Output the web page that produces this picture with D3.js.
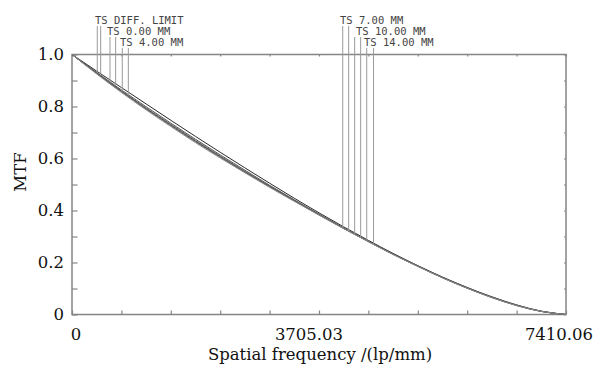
<!DOCTYPE html>
<html>
<head>
<meta charset="utf-8">
<script src="https://cdn.jsdelivr.net/npm/d3@7"></script>
<style>
  html, body { margin: 0; padding: 0; background: #ffffff; }
  svg { display: block; }
</style>
</head>
<body>
<svg id="chart" width="599" height="373"></svg>
<script>
// ---- data ----
const freqs = [0, 370.5, 741.0, 1111.5, 1482.0, 1852.5, 2223.0, 2593.5, 2964.0, 3334.5, 3705.03,
               4075.5, 4446.0, 4816.5, 5187.0, 5557.5, 5928.0, 6298.5, 6669.1, 7039.6, 7410.06];
const diffLimit = [1, .936, .873, .810, .747, .685, .624, .564, .505, .447, .391, .337, .285, .235, .188, .144, .104, .068, .037, .013, 0];
const field0  = [1, .931, .864, .799, .736, .674, .614, .555, .497, .441, .386, .333, .282, .233, .187, .143, .103, .067, .036, .012, 0];
const field4  = [1, .929, .861, .795, .732, .670, .610, .552, .495, .439, .385, .332, .281, .232, .186, .142, .102, .066, .035, .012, 0];
const field7  = [1, .928, .859, .792, .729, .667, .607, .549, .493, .438, .384, .331, .281, .232, .186, .142, .102, .066, .035, .012, 0];
const field10 = [1, .927, .857, .790, .726, .664, .605, .547, .491, .437, .383, .331, .280, .231, .185, .141, .101, .065, .035, .012, 0];
const field14 = [1, .925, .854, .787, .723, .661, .602, .545, .489, .435, .382, .330, .280, .231, .185, .141, .101, .065, .034, .012, 0];

const seriesNames = ["TS DIFF. LIMIT", "TS 0.00 MM", "TS 4.00 MM", "TS 7.00 MM", "TS 10.00 MM", "TS 14.00 MM"];
const seriesValues = [diffLimit, field0, field4, field7, field10, field14];
// frequencies where each label's T and S leader lines drop to the curves
const leaderFreqs = [[379, 430], [570, 655], [754, 845], [4061, 4150], [4240, 4330], [4421, 4523]];

const xTickValues = [0, 741.006, 1482.012, 2223.018, 2964.024, 3705.03, 4446.036, 5187.042, 5928.048, 6669.054, 7410.06];
const xTickLabels = ["0", "", "", "", "", "3705.03", "", "", "", "", "7410.06"];
const yTickValues = [0, .1, .2, .3, .4, .5, .6, .7, .8, .9, 1.0];
const yTickLabels = ["0", "", "0.2", "", "0.4", "", "0.6", "", "0.8", "", "1.0"];

// ---- layout ----
const svg = d3.select("#chart");
const plotL = 72, plotR = 566, plotT = 54.5, plotB = 314.5;
const x = d3.scaleLinear().domain([0, 7410.06]).range([plotL, plotR]);
const y = d3.scaleLinear().domain([0, 1]).range([plotB, plotT]);

const frameColor = "#858585";
const serif = "'DejaVu Serif', serif";

// frame
svg.append("rect")
  .attr("x", plotL).attr("y", plotT)
  .attr("width", plotR - plotL).attr("height", plotB - plotT)
  .attr("fill", "none").attr("stroke", frameColor).attr("stroke-width", 1.5);

// axes (ticks drawn inward)
const xAxis = d3.axisBottom(x).tickValues(xTickValues).tickSize(-4).tickFormat(() => "");
svg.append("g").attr("transform", `translate(0,${plotB})`).call(xAxis)
  .call(g => g.select(".domain").remove())
  .call(g => g.selectAll("line").attr("stroke", frameColor).attr("stroke-width", 1.2));
const xAxisTop = d3.axisTop(x).tickValues(xTickValues).tickSize(-2).tickFormat(() => "");
svg.append("g").attr("transform", `translate(0,${plotT})`).call(xAxisTop)
  .call(g => g.select(".domain").remove())
  .call(g => g.selectAll("line").attr("stroke", frameColor).attr("stroke-width", 1.2));

const yAxis = d3.axisLeft(y).tickValues(yTickValues).tickSize(-5.5).tickFormat(() => "");
svg.append("g").attr("transform", `translate(${plotL},0)`).call(yAxis)
  .call(g => g.select(".domain").remove())
  .call(g => g.selectAll("line").attr("stroke", frameColor).attr("stroke-width", 1.2));
const yAxisRight = d3.axisRight(y).tickValues(yTickValues).tickSize(-2).tickFormat(() => "");
svg.append("g").attr("transform", `translate(${plotR},0)`).call(yAxisRight)
  .call(g => g.select(".domain").remove())
  .call(g => g.selectAll("line").attr("stroke", frameColor).attr("stroke-width", 1.2));

// tick labels
const xLabelShift = [4, 0, 0, 0, 0, -10, 0, 0, 0, 0, -7];
svg.append("g").selectAll("text")
  .data(xTickValues.map((v, i) => ({ v, t: xTickLabels[i], s: xLabelShift[i] })).filter(d => d.t))
  .join("text")
  .attr("x", d => x(d.v) + d.s).attr("y", 340)
  .attr("text-anchor", "middle")
  .attr("font-family", serif).attr("font-size", 16.5).attr("fill", "#111")
  .text(d => d.t);

svg.append("g").selectAll("text")
  .data(yTickValues.map((v, i) => ({ v, t: yTickLabels[i] })).filter(d => d.t))
  .join("text")
  .attr("x", 64).attr("y", d => y(d.v) + 5.5)
  .attr("text-anchor", "end")
  .attr("font-family", serif).attr("font-size", 16.5).attr("fill", "#111")
  .text(d => d.t);

// axis titles
svg.append("text")
  .attr("x", 320).attr("y", 360)
  .attr("text-anchor", "middle")
  .attr("font-family", serif).attr("font-size", 16.5).attr("fill", "#111")
  .text("Spatial frequency /(lp/mm)");
svg.append("text")
  .attr("transform", "translate(26,172) rotate(-90)")
  .attr("text-anchor", "middle")
  .attr("font-family", serif).attr("font-size", 16.5).attr("fill", "#111")
  .text("MTF");

// curves
const line = d3.line()
  .x((d, i) => x(freqs[i]))
  .y(d => y(d))
  .curve(d3.curveMonotoneX);
const curveColors = ["#2a2a2a", "#555", "#777", "#444", "#666", "#888"];
svg.append("g").selectAll("path")
  .data(seriesValues)
  .join("path")
  .attr("d", line)
  .attr("fill", "none")
  .attr("stroke", (d, i) => curveColors[i])
  .attr("stroke-width", 1);

// interpolate a curve's value at a frequency from its data
function valueAt(vals, f) {
  const i = Math.min(d3.bisectRight(freqs, f), freqs.length - 1);
  const f0 = freqs[i - 1], f1 = freqs[i];
  const t = (f - f0) / (f1 - f0);
  return vals[i - 1] + t * (vals[i] - vals[i - 1]);
}

// labels with leader lines
const labelPos = [
  { x: 95, y: 24 }, { x: 107, y: 35 }, { x: 120, y: 46 },
  { x: 340, y: 24 }, { x: 356, y: 35 }, { x: 364, y: 46 }
];
const mono = "'DejaVu Sans Mono', monospace";
seriesNames.forEach((name, i) => {
  const p = labelPos[i];
  leaderFreqs[i].forEach(f => {
    svg.append("line")
      .attr("x1", x(f)).attr("x2", x(f))
      .attr("y1", p.y + 2).attr("y2", y(valueAt(seriesValues[i], f)))
      .attr("stroke", "#9a9a9a").attr("stroke-width", 1);
  });
  svg.append("text")
    .attr("x", p.x).attr("y", p.y)
    .attr("font-family", mono).attr("font-size", 10.5).attr("fill", "#444")
    .text(name);
});
</script>
</body>
</html>
